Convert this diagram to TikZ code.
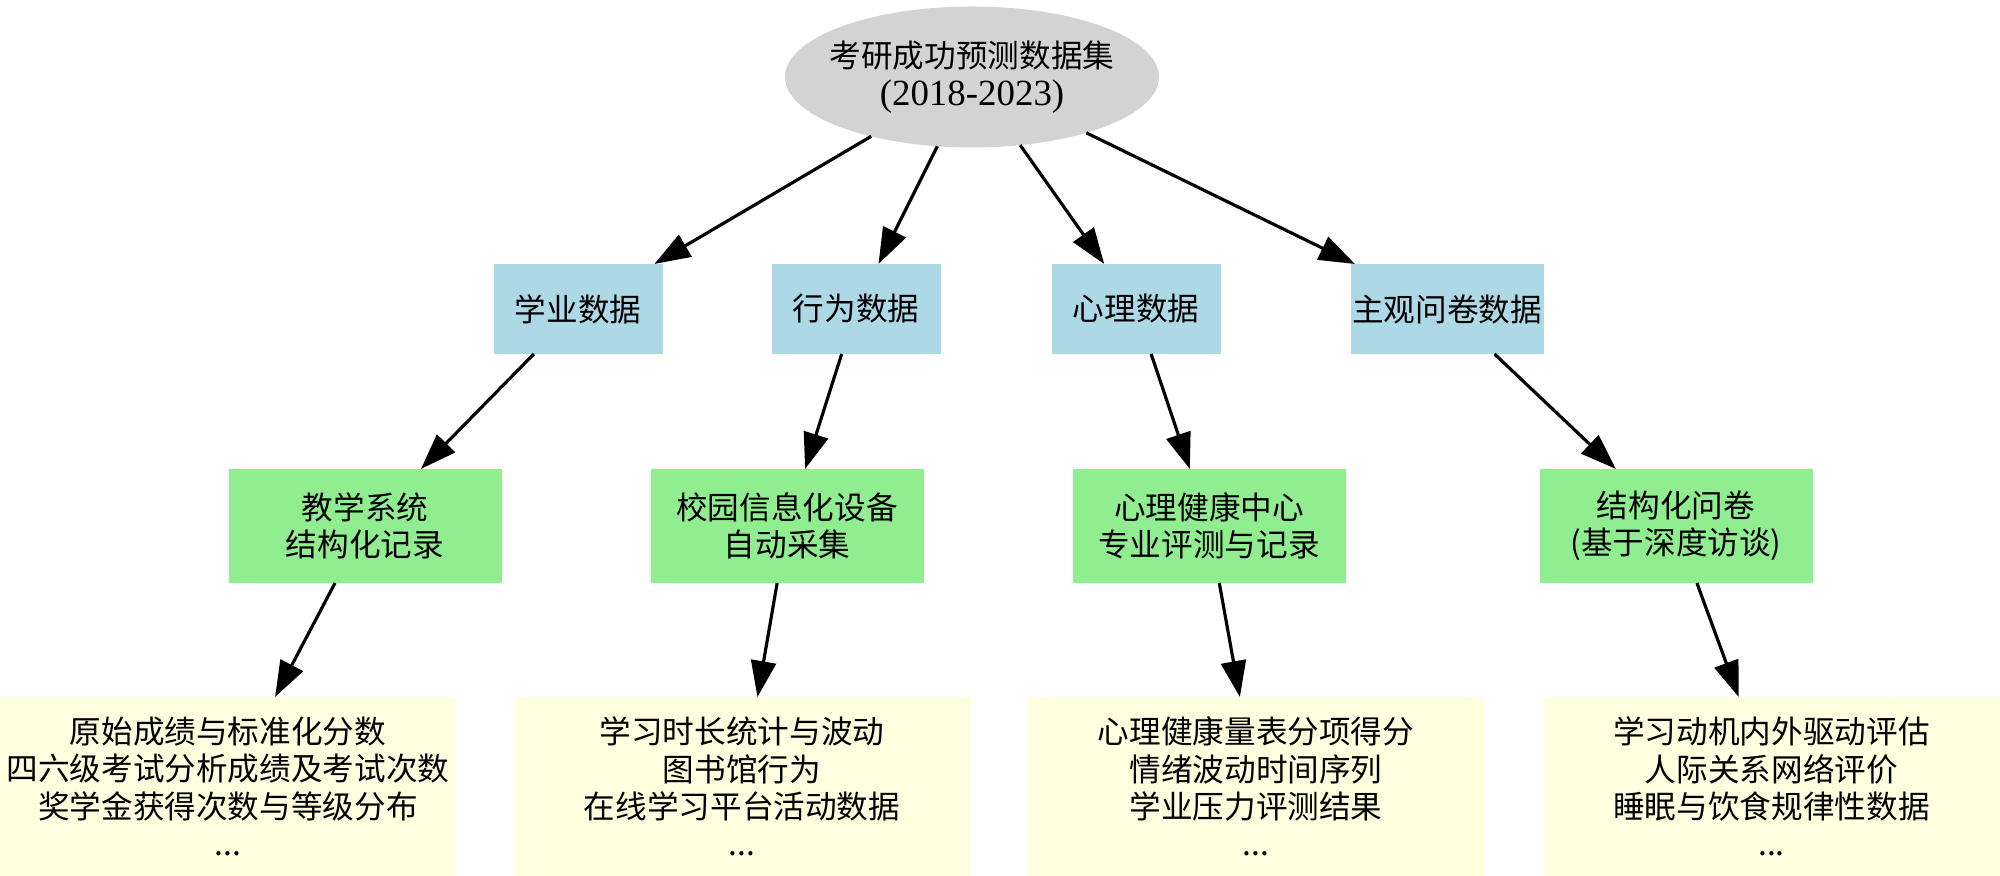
\documentclass[tikz,border=0pt]{standalone}
\usepackage{fontspec}
\setmainfont{Noto Sans CJK SC}
\newfontfamily\latinserif{Liberation Serif}
\usetikzlibrary{shapes.geometric}
\usetikzlibrary{arrows.meta}

\definecolor{rootgrey}{HTML}{D3D3D3}
\definecolor{catblue}{HTML}{ADD8E6}
\definecolor{srcgreen}{HTML}{90EE90}
\definecolor{itemyellow}{HTML}{FFFFE0}

\tikzset{
	box/.style={rectangle, inner sep=0, outer sep=0, align=center, font=\fontsize{9}{10.6}\selectfont},
	rootnode/.style={ellipse, fill=rootgrey, inner ysep=0, inner xsep=-0.15cm, outer sep=0, align=center, minimum width=3.74cm, minimum height=1.41cm, font=\fontsize{9}{10.6}\selectfont},
	catbox/.style={box, fill=catblue, minimum width=1.69cm, minimum height=0.90cm},
	srcbox/.style={box, fill=srcgreen, minimum width=2.73cm, minimum height=1.14cm},
	itembox/.style={box, fill=itemyellow, minimum width=4.56cm, minimum height=1.79cm},
	edge/.style={-{Triangle[length=0.36cm, width=0.25cm]}, line width=0.9pt}
}

\begin{document}
\begin{tikzpicture}

	\useasboundingbox (0,0) rectangle (20,-8.76);

	%root
	\node[rootnode] (root) at (9.72,-0.77) {考研成功预测数据集\\{\latinserif\fontsize{10.5}{10.6}\selectfont (2018-2023)}};

	%data categories
	\node[catbox] (acad) at (5.78,-3.09) {学业数据};
	\node[catbox] (behav) at (8.56,-3.09) {行为数据};
	\node[catbox] (psych) at (11.36,-3.09) {心理数据};
	\node[catbox, minimum width=1.93cm] (survey) at (14.47,-3.09) {主观问卷数据};

	%collection sources
	\node[srcbox] (acadsrc) at (3.65,-5.26) {教学系统\\结构化记录};
	\node[srcbox] (behavsrc) at (7.87,-5.26) {校园信息化设备\\自动采集};
	\node[srcbox] (psychsrc) at (12.09,-5.26) {心理健康中心\\专业评测与记录};
	\node[srcbox] (surveysrc) at (16.76,-5.26) {结构化问卷\\(基于深度访谈)};

	%data items
	\node[itembox] (acaditems) at (2.28,-7.865) {原始成绩与标准化分数\\四六级考试分析成绩及考试次数\\奖学金获得次数与等级分布\\...};
	\node[itembox] (behavitems) at (7.42,-7.865) {学习时长统计与波动\\图书馆行为\\在线学习平台活动数据\\...};
	\node[itembox] (psychitems) at (12.56,-7.865) {心理健康量表分项得分\\情绪波动时间序列\\学业压力评测结果\\...};
	\node[itembox] (surveyitems) at (17.715,-7.865) {学习动机内外驱动评估\\人际关系网络评价\\睡眠与饮食规律性数据\\...};

	%edges
	\draw[edge] (root) -- (acad);
	\draw[edge] (root) -- (behav);
	\draw[edge] (root) -- (psych);
	\draw[edge] (root) -- (survey);

	\draw[edge] (acad) -- (acadsrc);
	\draw[edge] (behav) -- (behavsrc);
	\draw[edge] (psych) -- (psychsrc);
	\draw[edge] (survey) -- (surveysrc);

	\draw[edge] (acadsrc) -- (acaditems);
	\draw[edge] (behavsrc) -- (behavitems);
	\draw[edge] (psychsrc) -- (psychitems);
	\draw[edge] (surveysrc) -- (surveyitems);

\end{tikzpicture}
\end{document}
